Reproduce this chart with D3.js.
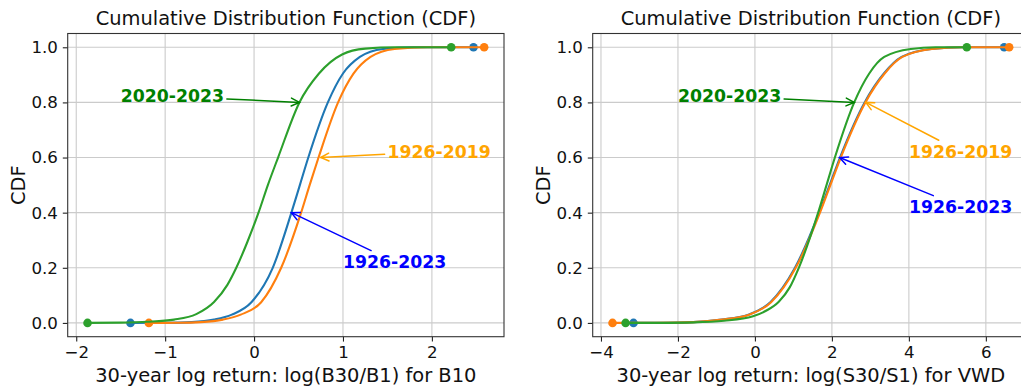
<!DOCTYPE html>
<html>
<head>
<meta charset="utf-8">
<script src="https://cdn.jsdelivr.net/npm/d3@7"></script>
<style>
  html, body { margin: 0; padding: 0; background: #fff; }
  svg { display: block; font-family: "DejaVu Sans", sans-serif; }
</style>
</head>
<body>
<svg id="chart" width="1021" height="391"></svg>
<script>
// ---- Bond panel (B10): CDF curves, x = 30-year log return ----
const bondX_1926_2023 = [-1.39, -1.0, -0.7, -0.45, -0.25, -0.03, 0.21, 0.42, 0.515, 0.61, 0.83, 1.0, 1.19, 1.45, 1.8, 2.468];
const bondY_1926_2023 = [0.0, 0.0005, 0.003, 0.012, 0.030, 0.075, 0.20, 0.40, 0.50, 0.60, 0.80, 0.905, 0.965, 0.994, 1.0, 1.0];
const bondX_1926_2019 = [-1.183, -0.85, -0.6, -0.35, -0.15, 0.08, 0.305, 0.529, 0.625, 0.725, 0.945, 1.12, 1.31, 1.58, 1.95, 2.588];
const bondY_1926_2019 = [0.0, 0.0005, 0.003, 0.012, 0.030, 0.075, 0.20, 0.40, 0.50, 0.60, 0.80, 0.905, 0.965, 0.994, 1.0, 1.0];
const bondX_2020_2023 = [-1.873, -1.5, -1.2, -0.9, -0.65, -0.45, -0.3, -0.2, -0.08, 0.05, 0.155, 0.27, 0.51, 0.73, 0.99, 1.25, 1.6, 2.217];
const bondY_2020_2023 = [0.0, 0.001, 0.004, 0.012, 0.032, 0.076, 0.138, 0.20, 0.29, 0.40, 0.50, 0.60, 0.80, 0.905, 0.974, 0.995, 1.0, 1.0];

// ---- Stock panel (VWD) ----
const stockX_1926_2023 = [-3.155, -2.4, -1.6, -0.87, -0.17, 0.40, 1.04, 1.67, 1.94, 2.21, 2.85, 3.35, 3.81, 4.58, 5.4, 6.476];
const stockY_1926_2023 = [0.0, 0.0005, 0.003, 0.012, 0.030, 0.075, 0.20, 0.40, 0.50, 0.60, 0.80, 0.905, 0.965, 0.994, 1.0, 1.0];
const stockX_1926_2019 = [-3.70, -2.6, -1.6, -0.85, -0.15, 0.42, 1.06, 1.69, 1.96, 2.23, 2.87, 3.37, 3.83, 4.6, 5.4, 6.606];
const stockY_1926_2019 = [0.0, 0.0005, 0.003, 0.012, 0.030, 0.075, 0.20, 0.40, 0.50, 0.60, 0.80, 0.905, 0.965, 0.994, 1.0, 1.0];
const stockX_2020_2023 = [-3.36, -2.5, -1.6, -0.8, -0.05, 0.3, 0.62, 0.9, 1.14, 1.643, 1.86, 2.077, 2.58, 2.97, 3.36, 4.05, 4.7, 5.505];
const stockY_2020_2023 = [0.0, 0.0003, 0.002, 0.008, 0.024, 0.045, 0.077, 0.128, 0.20, 0.40, 0.50, 0.60, 0.80, 0.905, 0.965, 0.994, 1.0, 1.0];

// ---- Axis ticks ----
const bondXTicks = [-2, -1, 0, 1, 2];
const stockXTicks = [-4, -2, 0, 2, 4, 6];
const cdfTicks = [0.0, 0.2, 0.4, 0.6, 0.8, 1.0];

// ---- Annotations: label, text anchor (data), arrow target (data) ----
const bondNotes = [
  { label: "2020-2023", text: [-1.5, 0.8], tip: [0.51, 0.8], color: "green" },
  { label: "1926-2019", text: [1.5, 0.6], tip: [0.75, 0.6], color: "orange" },
  { label: "1926-2023", text: [1.0, 0.2], tip: [0.42, 0.4], color: "blue" }
];
const stockNotes = [
  { label: "2020-2023", text: [-2, 0.8], tip: [2.58, 0.8], color: "green" },
  { label: "1926-2019", text: [4, 0.6], tip: [2.88, 0.8], color: "orange" },
  { label: "1926-2023", text: [4, 0.4], tip: [2.20, 0.6], color: "blue" }
];

const seriesColors = ["#1f77b4", "#ff7f0e", "#2ca02c"];

const svg = d3.select("#chart");

function zip(xs, ys) { return xs.map((x, i) => ({ x: x, y: ys[i] })); }

function drawPanel(opt) {
  const { left, top, width, height, xDomain, xTicks, xLabel, series, notes, id } = opt;
  const x = d3.scaleLinear().domain(xDomain).range([left, left + width]);
  const y = d3.scaleLinear().domain([-0.05, 1.05]).range([top + height, top]);

  const g = svg.append("g");

  g.append("clipPath").attr("id", id).append("rect")
    .attr("x", left).attr("y", top).attr("width", width).attr("height", height);

  // grid
  const grid = g.append("g").attr("stroke", "#cbcbcb").attr("stroke-width", 1.1);
  grid.selectAll("line.gx").data(xTicks).join("line")
    .attr("x1", d => x(d)).attr("x2", d => x(d))
    .attr("y1", top).attr("y2", top + height);
  grid.selectAll("line.gy").data(cdfTicks).join("line")
    .attr("x1", left).attr("x2", left + width)
    .attr("y1", d => y(d)).attr("y2", d => y(d));

  // curves and end markers
  const line = d3.line().x(d => x(d.x)).y(d => y(d.y)).curve(d3.curveMonotoneX);
  const plot = g.append("g").attr("clip-path", `url(#${id})`);
  series.forEach((pts, i) => {
    plot.append("path").datum(pts)
      .attr("d", line).attr("fill", "none")
      .attr("stroke", seriesColors[i]).attr("stroke-width", 2.1);
    plot.selectAll(null).data([pts[0], pts[pts.length - 1]]).join("circle")
      .attr("cx", d => x(d.x)).attr("cy", d => y(d.y)).attr("r", 4.3)
      .attr("fill", seriesColors[i]);
  });

  // axes
  const fmtMinus = s => s.replace("-", "\u2212");
  const xAxis = d3.axisBottom(x).tickValues(xTicks).tickSize(4.9).tickPadding(4.9)
    .tickFormat(d => fmtMinus(d3.format("d")(d)));
  const yAxis = d3.axisLeft(y).tickValues(cdfTicks).tickSize(4.9).tickPadding(4.9)
    .tickFormat(d3.format(".1f"));
  const ax = g.append("g").attr("transform", `translate(0,${top + height})`).call(xAxis);
  const ay = g.append("g").attr("transform", `translate(${left},0)`).call(yAxis);
  [ax, ay].forEach(a => {
    a.select(".domain").remove();
    a.selectAll(".tick line").attr("stroke", "#222").attr("stroke-width", 1.1);
    a.selectAll(".tick text").attr("fill", "#111").attr("font-size", 16.67)
      .attr("font-family", "DejaVu Sans");
  });

  // frame
  g.append("rect").attr("x", left).attr("y", top).attr("width", width).attr("height", height)
    .attr("fill", "none").attr("stroke", "#333").attr("stroke-width", 1.1);

  // titles
  g.append("text").attr("x", left + width / 2).attr("y", 25)
    .attr("text-anchor", "middle").attr("font-size", 19.44).attr("fill", "#111")
    .text("Cumulative Distribution Function (CDF)");
  g.append("text").attr("x", left + width / 2).attr("y", 382)
    .attr("text-anchor", "middle").attr("font-size", 19.44).attr("fill", "#111")
    .text(xLabel);
  g.append("text")
    .attr("transform", `translate(${left - 43},${top + height / 2}) rotate(-90)`)
    .attr("text-anchor", "middle").attr("font-size", 19.44).attr("fill", "#111")
    .text("CDF");

  // annotations
  notes.forEach(n => {
    const t = g.append("text")
      .attr("x", x(n.text[0])).attr("y", y(n.text[1]))
      .attr("font-size", 17.3).attr("font-weight", "bold")
      .attr("fill", n.color).text(n.label);
    const bb = t.node().getBBox();
    const cx = bb.x + bb.width / 2, cy = bb.y + bb.height / 2;
    const tx = x(n.tip[0]), ty = y(n.tip[1]);
    const dx = tx - cx, dy = ty - cy;
    // leave the text box along the line to the target
    const sx = dx !== 0 ? (bb.width / 2) / Math.abs(dx) : Infinity;
    const sy = dy !== 0 ? (bb.height / 2) / Math.abs(dy) : Infinity;
    const s = Math.min(sx, sy);
    const len = Math.hypot(dx, dy);
    const shrink = 2.8 / len;
    const x0 = cx + dx * (s + shrink), y0 = cy + dy * (s + shrink);
    const ang = Math.atan2(dy, dx);
    const hl = 9, hw = 0.45;
    const arrow = g.append("g").attr("stroke", n.color).attr("stroke-width", 1.5)
      .attr("fill", "none").attr("stroke-linecap", "round");
    arrow.append("line").attr("x1", x0).attr("y1", y0).attr("x2", tx).attr("y2", ty);
    arrow.append("path").attr("d",
      `M${tx - hl * Math.cos(ang - hw)},${ty - hl * Math.sin(ang - hw)}` +
      `L${tx},${ty}` +
      `L${tx - hl * Math.cos(ang + hw)},${ty - hl * Math.sin(ang + hw)}`);
  });
}

drawPanel({
  id: "clipBond", left: 67.7, top: 33.5, width: 436.3, height: 303.2,
  xDomain: [-2.096, 2.811], xTicks: bondXTicks,
  xLabel: "30-year log return: log(B30/B1) for B10",
  series: [zip(bondX_1926_2023, bondY_1926_2023), zip(bondX_1926_2019, bondY_1926_2019), zip(bondX_2020_2023, bondY_2020_2023)],
  notes: bondNotes
});

drawPanel({
  id: "clipStock", left: 592.7, top: 33.5, width: 436.3, height: 303.2,
  xDomain: [-4.215, 7.121], xTicks: stockXTicks,
  xLabel: "30-year log return: log(S30/S1) for VWD",
  series: [zip(stockX_1926_2023, stockY_1926_2023), zip(stockX_1926_2019, stockY_1926_2019), zip(stockX_2020_2023, stockY_2020_2023)],
  notes: stockNotes
});
</script>
</body>
</html>
